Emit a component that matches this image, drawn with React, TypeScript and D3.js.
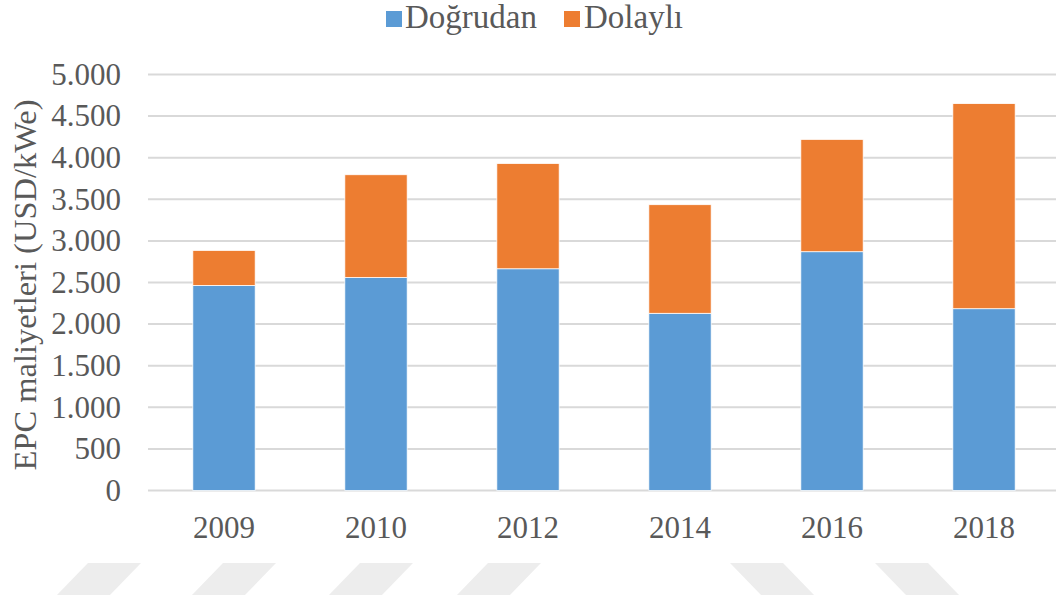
import React from "react";
import * as d3 from "d3";

const years = ["2009", "2010", "2012", "2014", "2016", "2018"];
const dogrudan = [2465, 2560, 2665, 2130, 2870, 2185];
const dolayli = [420, 1235, 1265, 1305, 1350, 2465];
const yTicks = [0, 500, 1000, 1500, 2000, 2500, 3000, 3500, 4000, 4500, 5000];
const seriesNames = ["Doğrudan", "Dolaylı"];
const seriesColors = ["#5B9BD5", "#ED7D31"];
// watermark stripes: [topLeftX, direction]
const stripes: [number, number][] = [
  [88, 1], [223, 1], [360, 1], [488, 1], [730, -1], [875, -1],
];

const W = 1056;
const H = 595;
const FONT = "'Liberation Serif', 'Times New Roman', serif";
const TXT = "#595959";

function fmt(v: number) {
  const s = String(v);
  return s.length > 3 ? s.slice(0, s.length - 3) + "." + s.slice(-3) : s;
}

export default function App() {
  const x = d3.scaleBand<string>().domain(years).range([148, 1060]).paddingInner(0.59).paddingOuter(0.295);
  const y = d3.scaleLinear().domain([0, 5000]).range([490.5, 74.5]);

  const data = years.map((yr, i) => ({ year: yr, d: dogrudan[i], i: dolayli[i] }));
  const stack = d3.stack<any>().keys(["d", "i"])(data);

  return (
    <svg width={W} height={H} style={{ position: "absolute", left: 0, top: 0, background: "#fff" }}>
      <rect width={W} height={H} fill="#fff" />
      {stripes.map(([tx, dir], k) => {
        const w = 53, s = 32, t = 563, b = 596;
        const pts = dir > 0
          ? `${tx},${t} ${tx + w},${t} ${tx + w - s},${b} ${tx - s},${b}`
          : `${tx},${t} ${tx + w},${t} ${tx + w + s},${b} ${tx + s},${b}`;
        return <polygon key={k} points={pts} fill="#ededed" />;
      })}
      {yTicks.map((t) => (
        <g key={t}>
          <line x1={148} x2={1060} y1={y(t)} y2={y(t)} stroke="#d9d9d9" strokeWidth={2} />
          <text x={121} y={y(t)} dy="0.33em" textAnchor="end" fontFamily={FONT} fontSize={31} fill={TXT}>
            {fmt(t)}
          </text>
        </g>
      ))}
      {stack.map((layer, li) => (
        <g key={li}>
          {layer.map((seg: any, k: number) => (
            <rect
              key={k}
              x={x(seg.data.year)}
              width={x.bandwidth()}
              y={y(seg[1])}
              height={y(seg[0]) - y(seg[1])}
              fill={seriesColors[li]}
              stroke="#ffffff"
              strokeWidth={0.75}
            />
          ))}
        </g>
      ))}
      {years.map((yr) => (
        <text key={yr} x={(x(yr) as number) + x.bandwidth() / 2} y={538} textAnchor="middle" fontFamily={FONT} fontSize={31} fill={TXT}>
          {yr}
        </text>
      ))}
      <text
        transform="translate(36,285) rotate(-90)"
        textAnchor="middle"
        fontFamily={FONT}
        fontSize={32.5}
        fill={TXT}
      >
        EPC maliyetleri (USD/kWe)
      </text>
      <g>
        <rect x={386} y={11} width={16} height={16} fill={seriesColors[0]} />
        <text x={405} y={28} fontFamily={FONT} fontSize={33} fill={TXT}>{seriesNames[0]}</text>
        <rect x={564} y={11} width={16} height={16} fill={seriesColors[1]} />
        <text x={584} y={28} fontFamily={FONT} fontSize={33} fill={TXT}>{seriesNames[1]}</text>
      </g>
    </svg>
  );
}
